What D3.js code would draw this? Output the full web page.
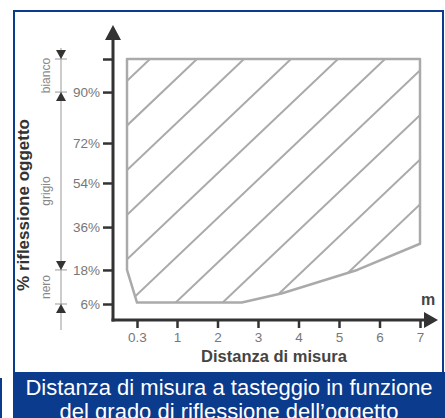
<!DOCTYPE html>
<html><head><meta charset="utf-8">
<script src="https://cdn.jsdelivr.net/npm/d3@7"></script>
<style>html,body{margin:0;padding:0;background:#fff;}svg{display:block;}</style>
</head><body>
<script>
// ---- data ----
const xTicks = [0.3, 1, 2, 3, 4, 5, 6, 7];
const xTickLabels = ["0.3", "1", "2", "3", "4", "5", "6", "7"];
const yTicks = [6, 18, 36, 54, 72, 90, 100];
const yTickLabels = ["6%", "18%", "36%", "54%", "72%", "90%", ""];
// boundary of the scanning range (distance m, reflectance %)
const regionX = [0.125, 7, 7, 5.45, 3.6, 2.6, 0.3, 0.125];
const regionY = [100, 100, 29, 18, 9.8, 6.5, 6.5, 18];
const bands = ["bianco", "grigio", "nero"];
const bandFrom = [90, 18, 6];
const bandTo = [100, 90, 18];
const xTitle = "Distanza di misura";
const yTitle = "% riflessione oggetto";
const unitLabel = "m";
const caption = ["Distanza di misura a tasteggio in funzione", "del grado di riflessione dell\u2019oggetto"];

// ---- layout ----
const W = 445, H = 418;
const blue = "#0b3b8d";
const axisX = 113, axisY = 320;
const yBottom = 304, yTop = 59;
const yFrac = [0, 0.139, 0.314, 0.494, 0.657, 0.865, 1];
const x = d3.scaleLinear().domain([0.3, 1, 7]).range([137, 177, 420]);
const y = d3.scaleLinear().domain(yTicks).range(yFrac.map(f => yBottom - f * (yBottom - yTop)));

const svg = d3.select("body").append("svg").attr("width", W).attr("height", H);
const font = "'Liberation Sans', Arial, sans-serif";

// frame
svg.append("rect").attr("x", 14).attr("y", 11).attr("width", 429).attr("height", 362)
  .attr("fill", "#fff").attr("stroke", blue).attr("stroke-width", 2);
svg.append("rect").attr("x", 13).attr("y", 372).attr("width", W - 13).attr("height", H - 372).attr("fill", blue);
svg.append("rect").attr("x", 0).attr("y", 378).attr("width", 2).attr("height", H - 378).attr("fill", blue);

// caption
svg.selectAll("text.cap").data(caption).join("text").attr("class", "cap")
  .attr("x", 229).attr("y", (d, i) => 395 + i * 24).attr("text-anchor", "middle")
  .attr("fill", "#fff").attr("font-family", font).attr("font-size", 22).text(d => d);

// region with hatching
const pts = regionX.map((d, i) => [x(d), y(regionY[i])]);
const defs = svg.append("defs");
defs.append("clipPath").attr("id", "reg").append("path").attr("d", d3.line()(pts) + "Z");
const hatch = svg.append("g").attr("clip-path", "url(#reg)");
const slope = 0.95, step = 47, x0 = 150;
const hatchStarts = d3.range(-3, 12).map(k => x0 + k * step);
hatch.selectAll("line").data(hatchStarts).join("line")
  .attr("x1", d => d).attr("y1", yTop)
  .attr("x2", d => d - 300).attr("y2", yTop + 300 * slope)
  .attr("stroke", "#aaa").attr("stroke-width", 2);
svg.append("path").attr("d", d3.line()(pts) + "Z").attr("fill", "none")
  .attr("stroke", "#aaa").attr("stroke-width", 2.5).attr("stroke-linejoin", "round");

// axes
const dark = "#333";
svg.append("line").attr("x1", axisX).attr("y1", 38).attr("x2", axisX).attr("y2", axisY + 1.5)
  .attr("stroke", dark).attr("stroke-width", 3);
svg.append("line").attr("x1", axisX - 1.5).attr("y1", axisY).attr("x2", 426).attr("y2", axisY)
  .attr("stroke", dark).attr("stroke-width", 3);
svg.append("path").attr("d", `M${axisX},25 L${axisX + 8},40 L${axisX - 8},40 Z`).attr("fill", dark);
svg.append("path").attr("d", `M438,${axisY} L424,${axisY - 8} L424,${axisY + 8} Z`).attr("fill", dark);

const yAxis = d3.axisLeft(y).tickValues(yTicks).tickFormat((d, i) => yTickLabels[i]).tickSize(10).tickPadding(3);
const gy = svg.append("g").attr("transform", `translate(${axisX},0)`).call(yAxis);
gy.select(".domain").remove();
gy.selectAll(".tick line").attr("stroke", dark).attr("stroke-width", 2.5);
gy.selectAll(".tick text").attr("fill", "#777").attr("font-family", font).attr("font-size", 13.5);

const xAxis = d3.axisBottom(x).tickValues(xTicks).tickFormat((d, i) => xTickLabels[i]).tickSize(8).tickPadding(4);
const gx = svg.append("g").attr("transform", `translate(0,${axisY})`).call(xAxis);
gx.select(".domain").remove();
gx.selectAll(".tick line").attr("stroke", dark).attr("stroke-width", 2.5);
gx.selectAll(".tick text").attr("fill", "#777").attr("font-family", font).attr("font-size", 13.5);

svg.append("text").attr("x", 274).attr("y", 362).attr("text-anchor", "middle")
  .attr("font-family", font).attr("font-weight", "bold").attr("font-size", 16.5).attr("fill", "#444").text(xTitle);
svg.append("text").attr("x", 428).attr("y", 305).attr("text-anchor", "middle")
  .attr("font-family", font).attr("font-weight", "bold").attr("font-size", 16).attr("fill", "#444").text(unitLabel);
svg.append("text").attr("transform", "translate(29,205) rotate(-90)").attr("text-anchor", "middle")
  .attr("font-family", font).attr("font-weight", "bold").attr("font-size", 17).attr("fill", "#333").text(yTitle);

// reflectance bands
const bx = 61;
svg.append("line").attr("x1", bx).attr("y1", 48).attr("x2", bx).attr("y2", 330).attr("stroke", "#999").attr("stroke-width", 1);
const marks = [[100, "down"], [90, "up"], [18, "down"], [6, "up"]];
marks.forEach(([v, dir]) => {
  const py = y(v);
  svg.append("line").attr("x1", bx - 6).attr("x2", bx + 6).attr("y1", py).attr("y2", py).attr("stroke", "#999").attr("stroke-width", 1);
  const b = dir === "down" ? py - 9 : py + 9;
  svg.append("path").attr("d", `M${bx},${py} L${bx - 5},${b} L${bx + 5},${b} Z`).attr("fill", dark);
});
svg.selectAll("text.band").data(bands).join("text").attr("class", "band")
  .attr("transform", (d, i) => `translate(50,${(y(bandFrom[i]) + y(bandTo[i])) / 2 + (i === 1 ? 10 : 0)}) rotate(-90)`)
  .attr("text-anchor", "middle").attr("font-family", font).attr("font-size", 12).attr("fill", "#888").text(d => d);
</script>
</body></html>
